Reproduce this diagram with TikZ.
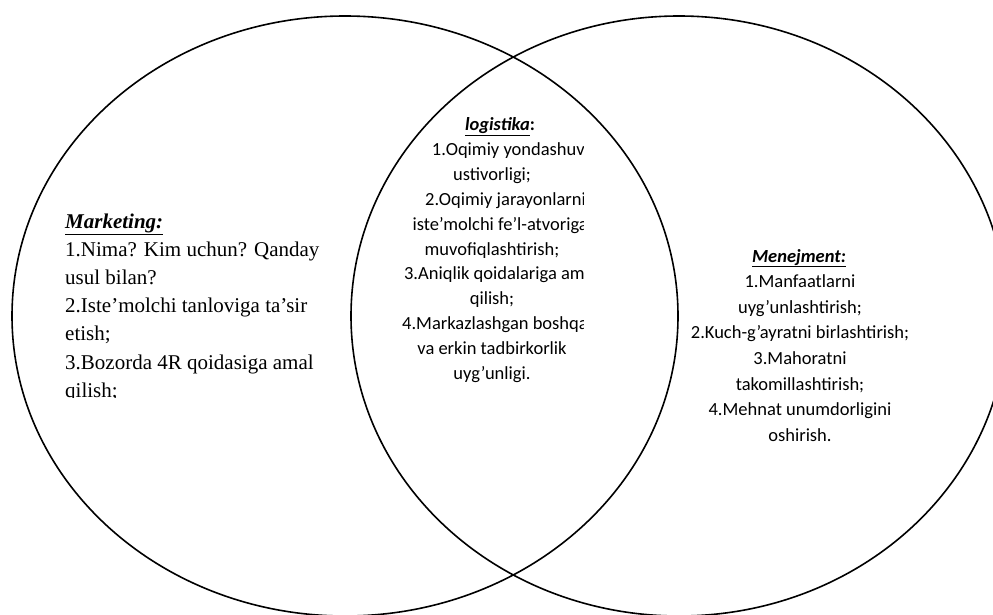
\documentclass[tikz,border=0pt]{standalone}
\usepackage{fontspec}
\setmainfont{Liberation Serif}
\newfontfamily\calfont{Carlito}
\tikzset{
  venn/.style={line width=1.6pt, draw=black},
  mtext/.style={font=\fontsize{21}{25}\selectfont, inner sep=0pt, anchor=base west},
  ctext/.style={font=\calfont\fontsize{18.5}{22}\selectfont, inner sep=0pt, anchor=base},
  cclip/.style={font=\calfont\fontsize{18.5}{22}\selectfont, inner sep=0pt, anchor=base east}
}
\begin{document}
\begin{tikzpicture}[x=1pt,y=-1pt]
\useasboundingbox (0,0) rectangle (993,615);
\fill[white] (0,0) rectangle (993,615);
\draw[venn] (345,316) ellipse [x radius=333, y radius=300];
\draw[venn] (679,316) ellipse [x radius=328, y radius=300];

% Marketing
\begin{scope}
\clip (0,0) rectangle (993,397);
\node[mtext] (m0) at (65,228) {\textbf{\textit{\underline{Marketing:}}}};
\foreach \t [count=\i] in {{1.Nima? Kim uchun? Qanday},{usul bilan?},{2.Iste’molchi tanloviga ta’sir},{etish;},{3.Bozorda 4R qoidasiga amal},{qilish;}}
  \node[mtext] (m\i) at (65,228+28.2*\i) {\t};
\end{scope}

% logistika
\begin{scope}
\clip (0,0) rectangle (583,615);
\node[ctext] (l0) at (500,131) {\textbf{\textit{\underline{logistika}}:}};
\node[cclip] (l1) at (585,155.8) {1.Oqimiy yondashuv};
\node[ctext] (l2) at (492,180.6) {ustivorligi;};
\node[cclip] (l3) at (586,205.4) {2.Oqimiy jarayonlarni};
\node[cclip] (l4) at (588,230.2) {iste’molchi fe’l-atvoriga};
\node[ctext] (l5) at (492,255.0) {muvofiqlashtirish;};
\node[cclip] (l6) at (585,279.8) {3.Aniqlik qoidalariga am};
\node[ctext] (l7) at (492,304.6) {qilish;};
\node[cclip] (l8) at (588,329.4) {4.Markazlashgan boshqa};
\node[ctext] (l9) at (492,354.2) {va erkin tadbirkorlik};
\node[ctext] (l10) at (492,379.0) {uyg’unligi.};
\end{scope}

% Menejment
\node[ctext] (r0) at (799,262) {\textbf{\textit{\underline{Menejment:}}}};
\foreach \t [count=\i] in {{1.Manfaatlarni},{uyg’unlashtirish;},{2.Kuch-g’ayratni birlashtirish;},{3.Mahoratni},{takomillashtirish;},{4.Mehnat unumdorligini},{oshirish.}}
  \node[ctext] (r\i) at (800,262+25.6*\i) {\t};
\end{tikzpicture}
\end{document}
